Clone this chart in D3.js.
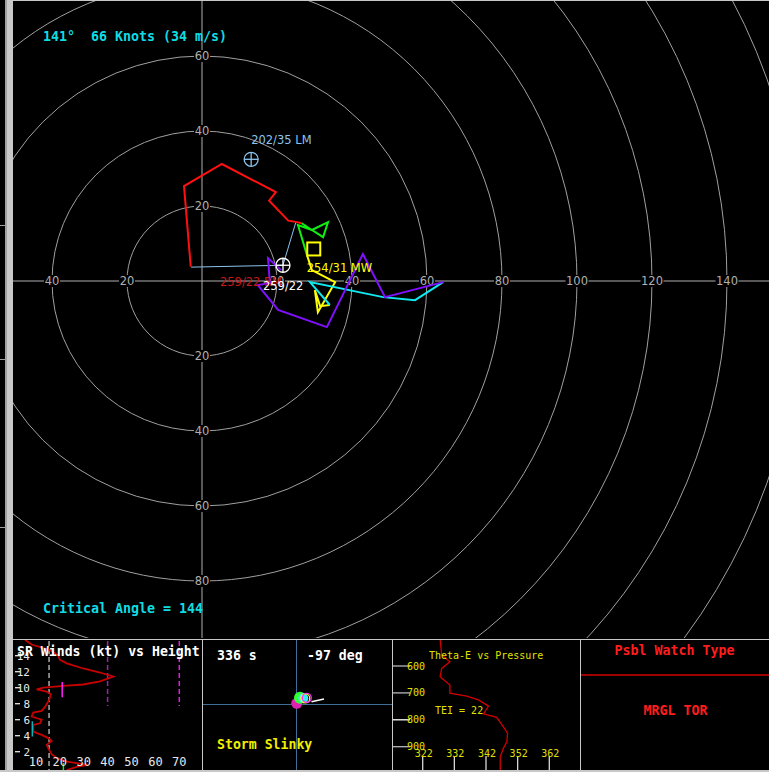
<!DOCTYPE html>
<html>
<head>
<meta charset="utf-8">
<script src="https://cdn.jsdelivr.net/npm/d3@7"></script>
<style>
  html, body { margin: 0; padding: 0; background: #000; overflow: hidden; }
  svg { display: block; }
</style>
</head>
<body>
<svg id="chart" width="769" height="772"></svg>
<script>
// ---------- Hodograph data (u, v in knots) ----------
const ringSpeeds = [20, 40, 60, 80, 100, 120, 140, 160, 180, 200];
const ringLabelsU = [-40, -20, 20, 40, 60, 80, 100, 120, 140];
const ringLabelsV = [60, 40, 20, -20, -40, -60, -80];

const windRed = [[-3.0, 3.8], [-4.8, 25.3], [5.3, 31.2], [19.7, 23.7], [17.9, 21.4], [23.0, 16.1], [25.3, 15.7], [26.6, 15.4]];
const windGreen = [[26.6, 15.4], [29.3, 13.6], [33.6, 15.7], [32.3, 11.7], [29.3, 13.6], [25.6, 14.9], [28.0, 6.9]];
const windYellow = [[28.0, 6.9], [29.3, 2.9], [35.5, -0.3], [30.9, -8.3], [30.1, -2.4], [31.5, -6.7], [34.1, -6.4]];
const windCyan = [[34.1, -6.4], [28.8, -0.3], [48.3, -4.3], [56.8, -5.1], [64.3, -0.3]];
const windPurple = [[64.3, -0.3], [48.8, -4.3], [42.9, 7.2], [33.3, -12.3], [20.3, -7.7], [14.9, -1.1], [18.1, -0.5], [17.6, 6.1], [21.1, 2.9]];
const inflowLines = [[[-2.9, 3.7], [21.6, 4.2]], [[21.6, 4.2], [25.0, 15.6]]];

// storm motions: direction (deg) / speed (kt)
const stormMotions = [
  { name: "LM", dir: 202, spd: 35 },
  { name: "MW", dir: 254, spd: 31 },
  { name: "RM", dir: 259, spd: 22 }
];

const cursorText = "141°  66 Knots (34 m/s)";
const criticalAngle = 144;

// ---------- SR winds vs height ----------
const srHeightKm = [16.0, 15.4, 14.7, 14.0, 13.5, 13.05, 12.4, 11.9, 11.4, 10.8, 10.4, 10.25, 10.0, 9.8, 9.5, 9.2, 8.5, 7.6, 7.1, 6.9, 6.4, 6.0, 5.55, 5.35, 4.5, 4.1, 3.7, 3.35, 2.85, 2.2, 1.7, 1.2, 0.75, 0.5, 0.35, 0.1, -0.3];
const srSpeedKt = [5.4, 8.2, 15.9, 19.4, 20, 22.9, 29.8, 36.8, 42.4, 36.8, 29.8, 22.9, 13.1, 10.3, 14.5, 16.2, 15.6, 13.8, 12.4, 8.9, 8.2, 12.4, 11.7, 8.9, 8.9, 12.4, 15.2, 16.6, 14.5, 15.6, 16.6, 18.7, 22.9, 28.5, 31.9, 27, 22.9];
const srHeightTicks = [2, 4, 6, 8, 10, 12, 14];
const srSpeedTicks = [10, 20, 30, 40, 50, 60, 70];

// ---------- Storm slinky ----------
const slinkyTime = "336 s";
const slinkyAngle = "-97 deg";

// ---------- Theta-E vs pressure ----------
const thetaPres = [500, 559, 584, 609, 640, 671, 701, 712, 726, 749, 778, 791, 826, 850, 881, 906, 937, 987];
const thetaE = [327.5, 328, 330.6, 328, 327.5, 330.6, 330.6, 335.9, 339.6, 342.8, 341.2, 345.4, 347.5, 348.8, 348.6, 347.5, 346.5, 346.5];
const presTicks = [600, 700, 800, 900];
const thetaTicks = [322, 332, 342, 352, 362];
const teiValue = 22;

const watchType = "MRGL TOR";

// ---------- drawing ----------
const svg = d3.select("#chart");
const MONO = "'DejaVu Sans Mono', monospace";
const SANS = "'DejaVu Sans', sans-serif";

svg.append("rect").attr("width", 769).attr("height", 772).attr("fill", "#000");

const defs = svg.append("defs");
defs.append("clipPath").attr("id", "hodoClip")
  .append("rect").attr("x", 13).attr("y", 1).attr("width", 756).attr("height", 637);

// hodograph scales
const xU = d3.scaleLinear().domain([0, 100]).range([202, 577]);
const yV = d3.scaleLinear().domain([0, 100]).range([281, -94]);
const rK = d3.scaleLinear().domain([0, 100]).range([0, 375]);

const hodo = svg.append("g").attr("clip-path", "url(#hodoClip)");

// rings
hodo.selectAll("circle.ring").data(ringSpeeds).join("circle")
  .attr("class", "ring")
  .attr("cx", xU(0)).attr("cy", yV(0)).attr("r", d => rK(d))
  .attr("fill", "none").attr("stroke", "#a0a0a0").attr("stroke-width", 1);

// axes
hodo.append("line").attr("x1", xU(0)).attr("x2", xU(0)).attr("y1", 0).attr("y2", 640)
  .attr("stroke", "#b0b0b0").attr("stroke-width", 1);
hodo.append("line").attr("x1", 0).attr("x2", 769).attr("y1", yV(0)).attr("y2", yV(0))
  .attr("stroke", "#b0b0b0").attr("stroke-width", 1);

// ring labels with black backing
function ringLabel(x, y, txt) {
  const w = txt.length * 7 + 2;
  hodo.append("rect").attr("x", x - w / 2).attr("y", y - 6).attr("width", w).attr("height", 12).attr("fill", "#000");
  hodo.append("text").attr("x", x).attr("y", y + 4).attr("text-anchor", "middle")
    .attr("font-family", SANS).attr("font-size", 11.5).attr("fill", "#b0b0b0").text(txt);
}
ringLabelsU.forEach(u => ringLabel(xU(u), yV(0), String(Math.abs(u))));
ringLabelsV.forEach(v => ringLabel(xU(0), yV(v), String(Math.abs(v))));

// inflow lines
const line = d3.line().x(d => xU(d[0])).y(d => yV(d[1]));
inflowLines.forEach(seg => {
  hodo.append("path").attr("d", line(seg)).attr("fill", "none")
    .attr("stroke", "#8cc4ec").attr("stroke-width", 1);
});

// hodograph trace by layer
[[windRed, "#ff1010"], [windGreen, "#10f010"], [windYellow, "#ffff00"], [windCyan, "#10e8f0"], [windPurple, "#8010ff"]]
  .forEach(([pts, col]) => {
    hodo.append("path").attr("d", line(pts)).attr("fill", "none")
      .attr("stroke", col).attr("stroke-width", 2).attr("stroke-linejoin", "miter");
  });

// storm motion markers
const motion = stormMotions.map(m => {
  const a = m.dir * Math.PI / 180;
  return Object.assign({}, m, { u: -m.spd * Math.sin(a), v: -m.spd * Math.cos(a) });
});
function crosshair(m, col) {
  const cx = xU(m.u), cy = yV(m.v), r = 7;
  hodo.append("circle").attr("cx", cx).attr("cy", cy).attr("r", r)
    .attr("fill", "none").attr("stroke", col).attr("stroke-width", 1.3);
  hodo.append("line").attr("x1", cx - r).attr("x2", cx + r).attr("y1", cy).attr("y2", cy).attr("stroke", col).attr("stroke-width", 1.3);
  hodo.append("line").attr("x1", cx).attr("x2", cx).attr("y1", cy - r).attr("y2", cy + r).attr("stroke", col).attr("stroke-width", 1.3);
}
const fmt = m => `${m.dir}/${m.spd}`;
const lm = motion.find(m => m.name === "LM");
const mw = motion.find(m => m.name === "MW");
const rm = motion.find(m => m.name === "RM");

crosshair(lm, "#8cc4ec");
hodo.append("text").attr("x", xU(lm.u)).attr("y", yV(lm.v) - 15)
  .attr("font-family", SANS).attr("font-size", 11.5).attr("fill", "#8cc4ec").text(fmt(lm) + " LM");

hodo.append("rect").attr("x", xU(mw.u) - 6.5).attr("y", yV(mw.v) - 6.5).attr("width", 13).attr("height", 13)
  .attr("fill", "none").attr("stroke", "#ffff00").attr("stroke-width", 2);
hodo.append("text").attr("x", xU(mw.u) - 7).attr("y", yV(mw.v) + 23)
  .attr("font-family", SANS).attr("font-size", 11.5).attr("fill", "#ffff00").text(fmt(mw) + " MW");

hodo.append("text").attr("x", xU(rm.u) - 63).attr("y", yV(rm.v) + 21)
  .attr("font-family", SANS).attr("font-size", 11.5).attr("fill", "#c81818").text(fmt(rm) + " RM");
crosshair(rm, "#ffffff");
hodo.append("text").attr("x", xU(rm.u) - 20).attr("y", yV(rm.v) + 25)
  .attr("font-family", SANS).attr("font-size", 11.5).attr("fill", "#ffffff").text(fmt(rm));

// readouts
hodo.append("text").attr("x", 43).attr("y", 41).attr("font-family", MONO).attr("font-weight", "bold")
  .attr("font-size", 13.3).attr("fill", "#10dce4").attr("xml:space", "preserve").text(cursorText);
hodo.append("text").attr("x", 43).attr("y", 612.5).attr("font-family", MONO).attr("font-weight", "bold")
  .attr("font-size", 13.3).attr("fill", "#10dce4").text(`Critical Angle = ${criticalAngle}`);

// frame around the hodograph
svg.append("line").attr("x1", 13).attr("x2", 769).attr("y1", 0.5).attr("y2", 0.5).attr("stroke", "#c8c8c8");
svg.append("rect").attr("x", 5).attr("y", 0).attr("width", 8).attr("height", 772).attr("fill", "#c8c8c8");
svg.append("rect").attr("x", 5).attr("y", 0).attr("width", 2).attr("height", 772).attr("fill", "#a0a0a0");
[225, 359, 527].forEach(y => {
  svg.append("line").attr("x1", 0).attr("x2", 5).attr("y1", y + 0.5).attr("y2", y + 0.5).attr("stroke", "#a0a0a0");
});

// ---------- bottom panels ----------
const panelTop = 639, panelBot = 770;
svg.append("rect").attr("x", 13).attr("y", panelTop).attr("width", 756).attr("height", panelBot - panelTop).attr("fill", "#000");
svg.append("line").attr("x1", 13).attr("x2", 769).attr("y1", panelTop + 0.5).attr("y2", panelTop + 0.5).attr("stroke", "#c8c8c8");
svg.append("rect").attr("x", 0).attr("y", panelBot).attr("width", 769).attr("height", 2).attr("fill", "#c8c8c8");
[202, 392, 580].forEach(x => {
  svg.append("line").attr("x1", x + 0.5).attr("x2", x + 0.5).attr("y1", panelTop).attr("y2", panelBot).attr("stroke", "#c8c8c8");
});

// panel 1: SR winds vs height
defs.append("clipPath").attr("id", "p1Clip")
  .append("rect").attr("x", 13).attr("y", panelTop + 1).attr("width", 189).attr("height", panelBot - panelTop - 1);
const p1 = svg.append("g").attr("clip-path", "url(#p1Clip)");
const xS = d3.scaleLinear().domain([0, 70]).range([12, 179.3]);
const yH = d3.scaleLinear().domain([0, 14]).range([767.7, 655.7]);

p1.append("line").attr("x1", xS(15.5)).attr("x2", xS(15.5)).attr("y1", 641).attr("y2", 770)
  .attr("stroke", "#ffffff").attr("stroke-width", 1).attr("stroke-dasharray", "5,3");
p1.append("line").attr("x1", xS(40)).attr("x2", xS(40)).attr("y1", 641).attr("y2", 706)
  .attr("stroke", "#a020b0").attr("stroke-width", 1.5).attr("stroke-dasharray", "5,3");
p1.append("line").attr("x1", xS(70)).attr("x2", xS(70)).attr("y1", 641).attr("y2", 706)
  .attr("stroke", "#e020e0").attr("stroke-width", 1.5).attr("stroke-dasharray", "5,3");

const srLine = d3.line().x((d, i) => xS(srSpeedKt[i])).y(d => yH(d));
p1.append("path").attr("d", srLine(srHeightKm)).attr("fill", "none")
  .attr("stroke", "#c80000").attr("stroke-width", 1.8);

// layer-mean markers
p1.append("line").attr("x1", xS(21)).attr("x2", xS(21)).attr("y1", yH(10.7)).attr("y2", yH(8.8)).attr("stroke", "#ff20ff").attr("stroke-width", 1.5);
p1.append("line").attr("x1", xS(8.5)).attr("x2", xS(8.5)).attr("y1", yH(5.8)).attr("y2", yH(3.9)).attr("stroke", "#10b0b8").attr("stroke-width", 1.5);
p1.append("line").attr("x1", xS(21.5)).attr("x2", xS(21.5)).attr("y1", yH(0.6)).attr("y2", yH(-0.3)).attr("stroke", "#20e020").attr("stroke-width", 1.5);

srHeightTicks.forEach(h => {
  p1.append("line").attr("x1", 15).attr("x2", 20).attr("y1", yH(h)).attr("y2", yH(h)).attr("stroke", "#e8e8e8").attr("stroke-width", 1.3);
  p1.append("text").attr("x", 30).attr("y", yH(h) + 4).attr("text-anchor", "end")
    .attr("font-family", MONO).attr("font-size", 11).attr("fill", "#e8e8e8").text(h);
});
srSpeedTicks.forEach(s => {
  p1.append("text").attr("x", xS(s)).attr("y", 765.5).attr("text-anchor", "middle")
    .attr("font-family", MONO).attr("font-size", 12).attr("fill", "#e8e8e8").text(s);
});
p1.append("text").attr("x", 17).attr("y", 655.5).attr("font-family", MONO).attr("font-weight", "bold")
  .attr("font-size", 13.2).attr("fill", "#ffffff").text("SR Winds (kt) vs Height");

// panel 2: storm slinky
const p2 = svg.append("g");
p2.append("line").attr("x1", 296.5).attr("x2", 296.5).attr("y1", panelTop + 1).attr("y2", panelBot).attr("stroke", "#3f6f96").attr("stroke-width", 1);
p2.append("line").attr("x1", 203).attr("x2", 392).attr("y1", 704.5).attr("y2", 704.5).attr("stroke", "#3f6f96").attr("stroke-width", 1);
p2.append("circle").attr("cx", 296.7).attr("cy", 703.3).attr("r", 5.5).attr("fill", "#e020b0");
p2.append("circle").attr("cx", 300).attr("cy", 697.7).attr("r", 6).attr("fill", "#30ff30");
p2.append("circle").attr("cx", 303.3).attr("cy", 698.3).attr("r", 5).attr("fill", "#30f0f0");
p2.append("circle").attr("cx", 305.3).attr("cy", 698.3).attr("r", 4.5).attr("fill", "none").attr("stroke", "#ffff20").attr("stroke-width", 1.3);
p2.append("circle").attr("cx", 306.8).attr("cy", 697.8).attr("r", 4.5).attr("fill", "none").attr("stroke", "#ff30ff").attr("stroke-width", 1.3);
p2.append("line").attr("x1", 311.5).attr("x2", 324).attr("y1", 701.7).attr("y2", 699).attr("stroke", "#ffffff").attr("stroke-width", 1.5);
p2.append("text").attr("x", 217).attr("y", 659.5).attr("font-family", MONO).attr("font-weight", "bold")
  .attr("font-size", 13.2).attr("fill", "#ffffff").text(slinkyTime);
p2.append("text").attr("x", 307).attr("y", 659.5).attr("font-family", MONO).attr("font-weight", "bold")
  .attr("font-size", 13.2).attr("fill", "#ffffff").text(slinkyAngle);
p2.append("text").attr("x", 217).attr("y", 749).attr("font-family", MONO).attr("font-weight", "bold")
  .attr("font-size", 13.2).attr("fill", "#f0f000").text("Storm Slinky");

// panel 3: theta-e vs pressure
defs.append("clipPath").attr("id", "p3Clip")
  .append("rect").attr("x", 393).attr("y", panelTop + 1).attr("width", 187).attr("height", panelBot - panelTop - 1);
const p3 = svg.append("g").attr("clip-path", "url(#p3Clip)");
const xT = d3.scaleLinear().domain([322, 362]).range([422.7, 549.3]);
const yP = d3.scaleLinear().domain([600, 900]).range([666, 746.7]);

presTicks.forEach(p => {
  p3.append("line").attr("x1", 392).attr("x2", 410).attr("y1", yP(p)).attr("y2", yP(p))
    .attr("stroke", p === 800 ? "#ffffff" : "#b8b8b8").attr("stroke-width", 1.3);
});
thetaTicks.forEach(t => {
  p3.append("line").attr("x1", xT(t)).attr("x2", xT(t)).attr("y1", 756).attr("y2", 770)
    .attr("stroke", "#d8d8d8").attr("stroke-width", 1.3);
});
const teLine = d3.line().x((d, i) => xT(thetaE[i])).y(d => yP(d));
p3.append("path").attr("d", teLine(thetaPres)).attr("fill", "none").attr("stroke", "#d00000").attr("stroke-width", 1.3);

presTicks.forEach(p => {
  p3.append("text").attr("x", 407).attr("y", yP(p) + 3.5)
    .attr("font-family", MONO).attr("font-size", 10).attr("fill", "#e0e000").text(p);
});
thetaTicks.forEach(t => {
  p3.append("text").attr("x", xT(t) + 1).attr("y", 757).attr("text-anchor", "middle")
    .attr("font-family", MONO).attr("font-size", 10).attr("fill", "#e0e000").text(t);
});
p3.append("text").attr("x", 429).attr("y", 658.5).attr("font-family", MONO).attr("font-size", 10)
  .attr("fill", "#e0e000").text("Theta-E vs Pressure");
p3.append("text").attr("x", 435).attr("y", 713.5).attr("font-family", MONO).attr("font-size", 10)
  .attr("fill", "#e0e000").attr("xml:space", "preserve").text(`TEI = ${teiValue}`);

// panel 4: possible watch type
const p4 = svg.append("g");
p4.append("text").attr("x", 674.5).attr("y", 654.5).attr("text-anchor", "middle").attr("font-family", MONO)
  .attr("font-weight", "bold").attr("font-size", 13.3).attr("fill", "#ff1c1c").text("Psbl Watch Type");
p4.append("line").attr("x1", 581).attr("x2", 769).attr("y1", 675).attr("y2", 675).attr("stroke", "#a00000").attr("stroke-width", 2);
p4.append("text").attr("x", 675.5).attr("y", 714.5).attr("text-anchor", "middle").attr("font-family", MONO)
  .attr("font-weight", "bold").attr("font-size", 13.3).attr("fill", "#ff1c1c").text(watchType);
</script>
</body>
</html>
